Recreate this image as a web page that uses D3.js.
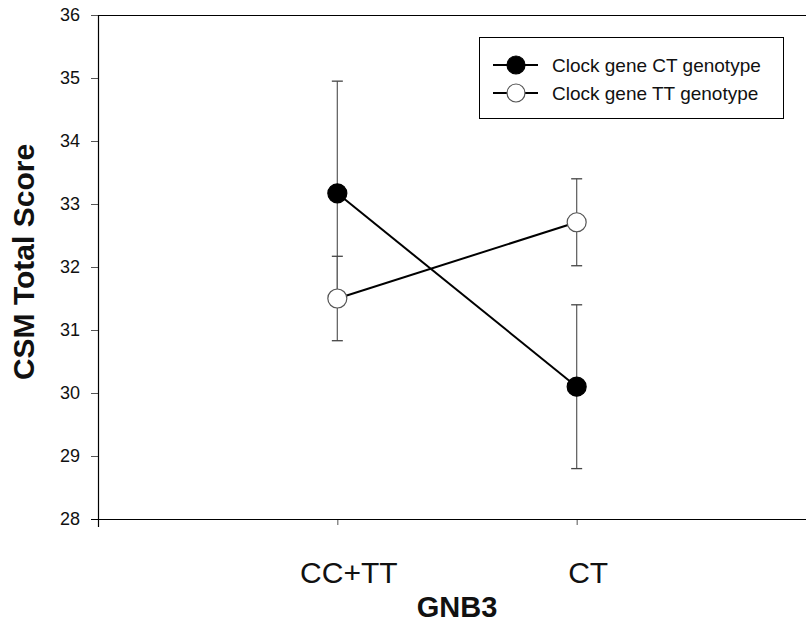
<!DOCTYPE html>
<html>
<head>
<meta charset="utf-8">
<script src="https://cdn.jsdelivr.net/npm/d3@7"></script>
<style>
  body { margin: 0; background: #fff; }
  text { font-family: "Liberation Sans", Arial, sans-serif; }
</style>
</head>
<body>
<svg id="chart" width="806" height="623"></svg>
<script>
// data
var categories = ["CC+TT", "CT"];
var seriesNames = ["Clock gene CT genotype", "Clock gene TT genotype"];
var ctMeans = [33.17, 30.10];
var ctErr = [1.78, 1.30];
var ttMeans = [31.50, 32.71];
var ttErr = [0.67, 0.69];
var yTicks = [28, 29, 30, 31, 32, 33, 34, 35, 36];

var series = [
  { name: seriesNames[0], means: ctMeans, err: ctErr, fill: "#000" },
  { name: seriesNames[1], means: ttMeans, err: ttErr, fill: "#fff" }
];

var svg = d3.select("#chart");
var plotLeft = 98, plotTop = 15, plotBottom = 519, plotRight = 816;

var x = d3.scalePoint().domain(categories).range([plotLeft, plotRight]).padding(1);
var y = d3.scaleLinear().domain([28, 36]).range([plotBottom, plotTop]);

// frame lines (top + bottom run to the edge)
svg.append("line").attr("x1", plotLeft).attr("x2", 806).attr("y1", plotTop + 0.5).attr("y2", plotTop + 0.5)
  .attr("stroke", "#000").attr("stroke-width", 1.2);

// y axis
var yAxis = d3.axisLeft(y).tickValues(yTicks).tickSize(7).tickPadding(11);
var gy = svg.append("g").attr("transform", "translate(" + plotLeft + ",0)").call(yAxis);
gy.select(".domain").remove();
gy.selectAll(".tick line").attr("stroke", "#555");
gy.selectAll(".tick text").attr("font-size", 18).attr("fill", "#111")
  .style("font-family", "'Liberation Sans', Arial, sans-serif");
svg.append("line").attr("x1", plotLeft + 0.5).attr("x2", plotLeft + 0.5).attr("y1", plotTop).attr("y2", plotBottom + 8)
  .attr("stroke", "#000").attr("stroke-width", 1.2);

// x axis
var xAxis = d3.axisBottom(x).tickSize(6).tickPadding(37);
var gx = svg.append("g").attr("transform", "translate(0," + plotBottom + ")").call(xAxis);
gx.select(".domain").remove();
gx.selectAll(".tick line").attr("stroke", "#555");
gx.selectAll(".tick text").attr("font-size", 30).attr("fill", "#111").attr("dx", 11)
  .style("font-family", "'Liberation Sans', Arial, sans-serif");
svg.append("line").attr("x1", 91).attr("x2", 806).attr("y1", plotBottom + 0.5).attr("y2", plotBottom + 0.5)
  .attr("stroke", "#000").attr("stroke-width", 1.2);

// axis titles
svg.append("text").attr("x", 457).attr("y", 617).attr("text-anchor", "middle")
  .attr("font-size", 29).attr("font-weight", "bold").attr("fill", "#111").text("GNB3");
svg.append("text").attr("transform", "translate(34,262) rotate(-90)").attr("text-anchor", "middle")
  .attr("font-size", 30).attr("font-weight", "bold").attr("fill", "#111").text("CSM Total Score");

// error bars
series.forEach(function(s) {
  var g = svg.append("g");
  categories.forEach(function(c, i) {
    var cx = x(c);
    var hi = y(s.means[i] + s.err[i]), lo = y(s.means[i] - s.err[i]);
    g.append("line").attr("x1", cx).attr("x2", cx).attr("y1", hi).attr("y2", lo)
      .attr("stroke", "#666").attr("stroke-width", 1.3);
    [hi, lo].forEach(function(v) {
      g.append("line").attr("x1", cx - 5.5).attr("x2", cx + 5.5).attr("y1", v).attr("y2", v)
        .attr("stroke", "#444").attr("stroke-width", 1.3);
    });
  });
});

// lines
var line = d3.line().x(function(d, i) { return x(categories[i]); }).y(function(d) { return y(d); });
series.forEach(function(s) {
  svg.append("path").datum(s.means).attr("d", line)
    .attr("fill", "none").attr("stroke", "#000").attr("stroke-width", 2);
});

// markers
series.forEach(function(s) {
  svg.selectAll(null).data(s.means).enter().append("circle")
    .attr("cx", function(d, i) { return x(categories[i]); })
    .attr("cy", function(d) { return y(d); })
    .attr("r", 9.5)
    .attr("fill", s.fill)
    .attr("stroke", s.fill === "#000" ? "#000" : "#555")
    .attr("stroke-width", 1.2);
});

// legend
var lg = svg.append("g").attr("transform", "translate(479,37)");
lg.append("rect").attr("x", 0.5).attr("y", 0.5).attr("width", 304).attr("height", 81)
  .attr("fill", "#fff").attr("stroke", "#000").attr("stroke-width", 1);
series.forEach(function(s, i) {
  var ly = 28 + i * 28;
  lg.append("line").attr("x1", 14).attr("x2", 59).attr("y1", ly).attr("y2", ly)
    .attr("stroke", "#000").attr("stroke-width", 2);
  lg.append("circle").attr("cx", 37).attr("cy", ly).attr("r", 9)
    .attr("fill", s.fill).attr("stroke", s.fill === "#000" ? "#000" : "#555").attr("stroke-width", 1.2);
  lg.append("text").attr("x", 73).attr("y", ly + 7).attr("font-size", 19).attr("fill", "#111").text(s.name);
});
</script>
</body>
</html>
